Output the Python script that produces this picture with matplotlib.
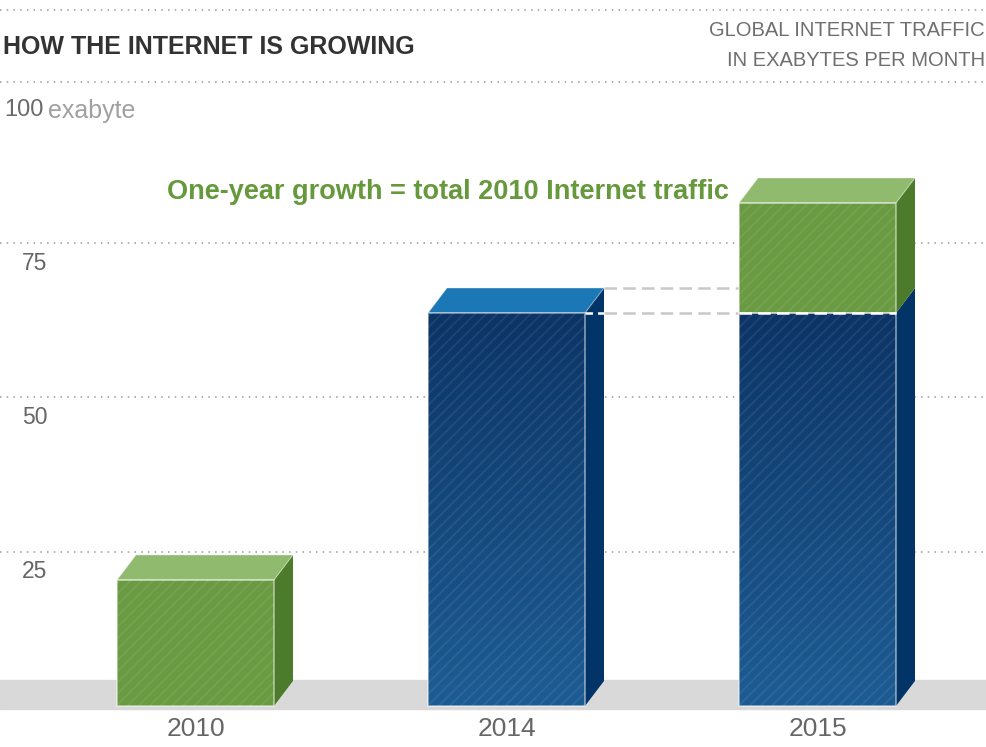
import numpy as np
import matplotlib as mpl
mpl.use('Agg')
import matplotlib.pyplot as plt
import matplotlib.transforms as mtransforms
from matplotlib.patches import Polygon, Rectangle
from matplotlib.lines import Line2D

plt.rcParams['font.family'] = ['Liberation Sans', 'DejaVu Sans']
plt.rcParams['hatch.linewidth'] = 1.3

# data (exabytes per month)
years = ['2010', '2014', '2015']
blue_part = [0.0, 63.6, 63.6]    # traffic carried from 2014
green_part = [20.4, 0.0, 17.8]   # 2010 total / one-year growth
yticks = [25, 50, 75]

# colours
GREEN = dict(front='#6a9b43', top='#90ba6d', side='#4c7c2b')
BLUE = dict(front='#0c3466', top='#1c77b6', side='#033468', bottom='#1d5c93')

W, H = 987, 747
fig = plt.figure(figsize=(W / 100, H / 100), dpi=100)
ax = fig.add_axes([0, 0, 1, 1])
ax.axis('off')

# pixel geometry of the original graphic
px_unit = 6.18
zero_px = 706
x0_px, step_px = 195.5, 311
ylim = (-(H - zero_px) / px_unit, zero_px / px_unit)
xlim = (-x0_px / step_px, (W - x0_px) / step_px)

bw = 157 / step_px
dx = 19 / step_px
dy = 25 / px_unit


def box(ax, xc, bottom, height, c, top=True, gradient=False):
    xa, xb = xc - bw / 2, xc + bw / 2
    yt = bottom + height
    # side face
    ax.add_patch(Polygon([(xb, bottom), (xb + dx, bottom + dy), (xb + dx, yt + dy), (xb, yt)],
                         closed=True, fc=c['side'], ec='none', zorder=3))
    # front face
    rect = Rectangle((xa, bottom), bw, height, fc=c['front'], ec='none', zorder=3)
    ax.add_patch(rect)
    if gradient:
        g = np.linspace(0, 1, 200).reshape(-1, 1)
        cmap = mpl.colors.LinearSegmentedColormap.from_list('g', [c['bottom'], c['front']])
        im = ax.imshow(g, extent=(xa, xb, bottom, yt), origin='lower', cmap=cmap,
                       aspect='auto', zorder=3.1, interpolation='bilinear')
        im.set_clip_path(rect)
    ax.add_patch(Rectangle((xa, bottom), bw, height, fc='none', ec=(1, 1, 1, 0.08),
                           hatch='///', lw=0, zorder=3.2))
    ax.add_patch(Rectangle((xa, bottom), bw, height, fc='none', ec=(1, 1, 1, 0.55),
                           lw=1.1, zorder=3.3))
    if top:
        ax.add_patch(Polygon([(xa, yt), (xb, yt), (xb + dx, yt + dy), (xa + dx, yt + dy)],
                             closed=True, fc=c['top'], ec=(1, 1, 1, 0.35), lw=0.8, zorder=3))


# grey floor band
ax.axhspan(-0.45, dy + 0.1, color='#d9d9d9', zorder=1)

# dotted gridlines
for v in yticks:
    ax.axhline(v, color='#9a9a9a', lw=1.1, ls=(0, (1, 3.4)), zorder=0.5)
    tr = mtransforms.offset_copy(ax.get_yaxis_transform(), fig=fig, y=-9, units='dots')
    ax.text(0.022, v, str(v), transform=tr, ha='left', va='top', fontsize=16.5,
            color='#666666')

# bars
for i, yr in enumerate(years):
    b = blue_part[i]
    g = green_part[i]
    if b > 0:
        box(ax, i, 0, b, BLUE, top=(g == 0), gradient=True)
    if g > 0:
        box(ax, i, b, g, GREEN, top=True)
    ax.text(i, 0, yr, transform=mtransforms.offset_copy(ax.transData, fig=fig, y=-11, units='dots'),
            ha='center', va='top', fontsize=19, color='#666666')

# dashed comparison lines between 2014 and 2015
lvl = blue_part[1]
x14 = 1 + bw / 2
x15a, x15b = 2 - bw / 2, 2 + bw / 2
ax.plot([x14 + dx, x15a], [lvl + dy, lvl + dy], color='#c8c8c8', lw=1.8,
        ls=(0, (5, 2.5)), zorder=2)
ax.plot([x14 + dx, x15a], [lvl, lvl], color='#c8c8c8', lw=1.8, ls=(0, (5, 2.5)), zorder=2)
ax.plot([x14, x14 + dx], [lvl, lvl], color='white', lw=1.8, ls=(0, (3, 2)), zorder=4)
ax.plot([x15a, x15b], [lvl, lvl], color='white', lw=1.8, ls=(0, (5, 2.5)), zorder=4)

ax.set_xlim(*xlim)
ax.set_ylim(*ylim)

# header
for ypx in (10, 82):
    fig.add_artist(Line2D([0, 1], [1 - ypx / H] * 2, transform=fig.transFigure,
                          color='#9a9a9a', lw=1.1, ls=(0, (1, 3.4))))
fig.text(3 / W, 1 - 47 / H, 'HOW THE INTERNET IS GROWING', fontsize=18, weight='bold',
         color='#333333', va='center', ha='left')
fig.text(985 / W, 1 - 31 / H, 'GLOBAL INTERNET TRAFFIC', fontsize=14.5, color='#6f6f6f',
         va='center', ha='right')
fig.text(985 / W, 1 - 61 / H, 'IN EXABYTES PER MONTH', fontsize=14.5, color='#6f6f6f',
         va='center', ha='right')
fig.text(4 / W, 1 - 110 / H, '100', fontsize=17, color='#6a6a6a', va='center', ha='left')
fig.text(48 / W, 1 - 111 / H, 'exabyte', fontsize=18, color='#a0a0a0', va='center', ha='left')
fig.text(167 / W, 1 - 192 / H, 'One-year growth = total 2010 Internet traffic', fontsize=19.5,
         weight='bold', color='#66993c', va='center', ha='left')

fig.savefig('out.png', dpi=100)
